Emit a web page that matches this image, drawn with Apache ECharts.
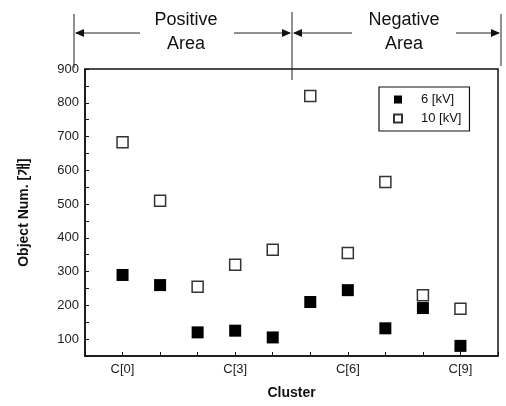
<!DOCTYPE html>
<html><head><meta charset="utf-8">
<script src="https://cdn.jsdelivr.net/npm/echarts@6/dist/echarts.min.js"></script>
<style>html,body{margin:0;padding:0;background:#fff}#c{width:506px;height:406px}</style>
</head><body><div id="c"></div>
<script>
const clusters = [0,1,2,3,4,5,6,7,8,9];
const xTickLabels = {0:'C[0]',3:'C[3]',6:'C[6]',9:'C[9]'};
const kv6 = [290,260,120,125,105,210,245,132,192,80];
const kv10 = [683,510,255,320,365,820,355,565,230,190];
const seriesNames = ['6 [kV]','10 [kV]'];
const areaNames = ['Positive\nArea','Negative\nArea'];

const chart = echarts.init(document.getElementById('c'));
const FONT = '"Liberation Sans", Arial, sans-serif';

function arrowHead(x, y, dir){
  return {type:'polygon', shape:{points:[[x,y],[x-dir*9,y-4],[x-dir*9,y+4]]}, style:{fill:'#111'}};
}
const AY = 33;
const graphics = [
  {type:'line', shape:{x1:74,y1:14,x2:74,y2:68}, style:{stroke:'#222',lineWidth:1}},
  {type:'line', shape:{x1:292,y1:12,x2:292,y2:80}, style:{stroke:'#222',lineWidth:1}},
  {type:'line', shape:{x1:501,y1:14,x2:501,y2:66}, style:{stroke:'#222',lineWidth:1}},
  {type:'line', shape:{x1:76,y1:AY,x2:140,y2:AY}, style:{stroke:'#222',lineWidth:1}},
  {type:'line', shape:{x1:234,y1:AY,x2:290,y2:AY}, style:{stroke:'#222',lineWidth:1}},
  {type:'line', shape:{x1:294,y1:AY,x2:352,y2:AY}, style:{stroke:'#222',lineWidth:1}},
  {type:'line', shape:{x1:456,y1:AY,x2:499,y2:AY}, style:{stroke:'#222',lineWidth:1}},
  arrowHead(75,AY,-1), arrowHead(291,AY,1), arrowHead(293,AY,-1), arrowHead(500,AY,1),
  {type:'text', x:186, y:8, style:{text:areaNames[0], font:'18px '+FONT, fill:'#111', align:'center', lineHeight:24}},
  {type:'text', x:404, y:8, style:{text:areaNames[1], font:'18px '+FONT, fill:'#111', align:'center', lineHeight:24}}
];

chart.setOption({
  animation:false,
  backgroundColor:'#fff',
  grid:{left:85,right:8,top:69,bottom:50,show:true,borderColor:'#111',borderWidth:1.5},
  legend:{
    orient:'vertical', left:379, top:87, width:88,
    data:seriesNames, itemWidth:8, itemHeight:8, itemGap:6,
    padding:[6,8,6,14],
    borderColor:'#111', borderWidth:1.2, backgroundColor:'#fff',
    textStyle:{fontFamily:FONT,fontSize:13,color:'#111',padding:[0,0,0,14]}
  },
  xAxis:{
    type:'value', min:-1, max:10, interval:1,
    name:'Cluster', nameLocation:'middle', nameGap:30,
    nameTextStyle:{fontFamily:FONT,fontSize:14,fontWeight:'bold',color:'#111'},
    axisLine:{onZero:false,lineStyle:{color:'#111',width:1.5}},
    axisTick:{inside:true,length:4,lineStyle:{color:'#111'}},
    splitLine:{show:false},
    axisLabel:{fontFamily:FONT,fontSize:13,color:'#222',margin:7,
      formatter:v=>xTickLabels[v]||''}
  },
  yAxis:{
    type:'value', min:50, max:900, interval:50,
    name:'Object Num. [개]', nameLocation:'middle', nameGap:54,
    nameTextStyle:{fontFamily:'"Liberation Sans","Noto Sans CJK KR",sans-serif',fontSize:14,fontWeight:'bold',color:'#111'},
    axisLine:{show:true,onZero:false,lineStyle:{color:'#111',width:1.5}},
    axisTick:{inside:true,length:4,lineStyle:{color:'#111'}},
    splitLine:{show:false},
    axisLabel:{fontFamily:FONT,fontSize:13,color:'#222',margin:6,
      formatter:v=>(v%100===0?String(v):'')}
  },
  series:[
    {name:seriesNames[0], type:'scatter', symbol:'rect', symbolSize:12,
     itemStyle:{color:'#000',opacity:1}, data:clusters.map((c,i)=>[c,kv6[i]])},
    {name:seriesNames[1], type:'scatter', symbol:'rect', symbolSize:11,
     itemStyle:{color:'#fff',borderColor:'#333',borderWidth:1.5,opacity:1}, data:clusters.map((c,i)=>[c,kv10[i]])}
  ],
  graphic:graphics
});
</script></body></html>
